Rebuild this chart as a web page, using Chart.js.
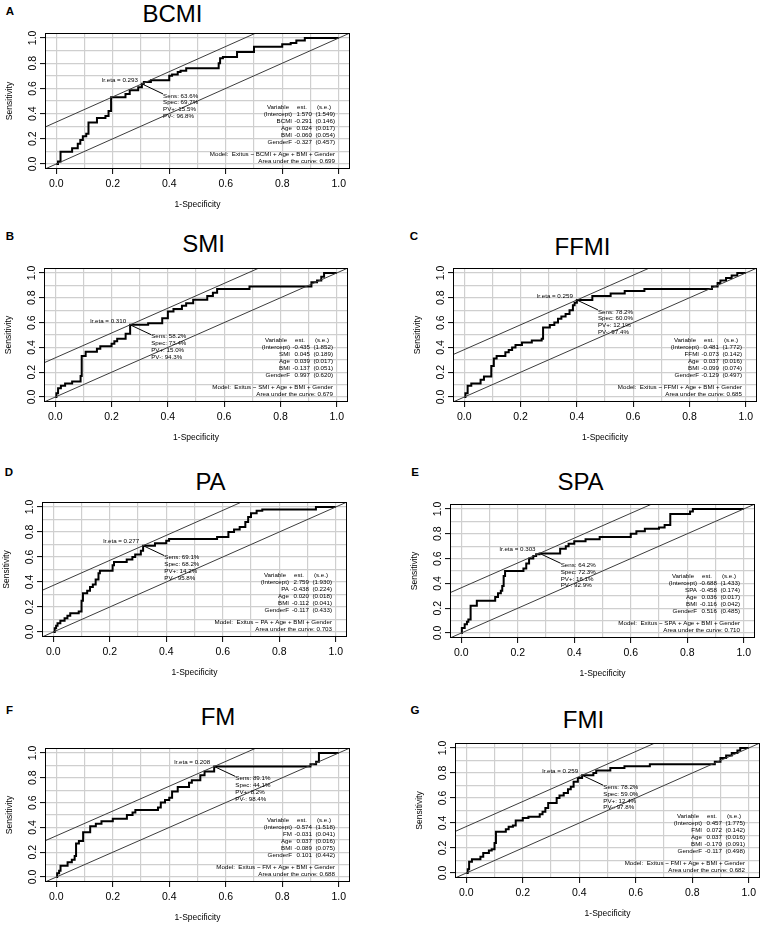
<!DOCTYPE html>
<html><head><meta charset="utf-8">
<script src="https://cdn.jsdelivr.net/npm/chart.js@4.4.1/dist/chart.umd.min.js"></script>
<style>
html,body{margin:0;padding:0;background:#fff}
body{width:767px;height:926px;position:relative;overflow:hidden;font-family:"Liberation Sans",Arial,Helvetica,sans-serif;color:#000}
.cv{position:absolute}
.ttl{position:absolute;font-size:24px;line-height:1;transform:translate(-50%,-50%);white-space:nowrap}
.lt{position:absolute;font-size:11.5px;font-weight:bold;line-height:1;transform:translate(-50%,-50%)}
</style></head><body>
<script>
// ---------------- data ----------------
const panelLetters = ['A','B','C','D','E','F','G'];
const panelTitles  = ['BCMI','SMI','FFMI','PA','SPA','FM','FMI'];
const gridValues   = [0,0.1,0.2,0.3,0.4,0.5,0.6,0.7,0.8,0.9,1.0];
const tickLabels   = ['0.0','0.2','0.4','0.6','0.8','1.0'];

// ROC curves: [1-specificity, sensitivity] at each vertical rise
const rocBCMI = [[0,0],[0.006,0.02],[0.015,0.096],[0.056,0.125],[0.076,0.16],[0.085,0.19],[0.094,0.22],[0.106,0.24],[0.114,0.33],[0.144,0.365],[0.174,0.38],[0.185,0.42],[0.194,0.53],[0.245,0.555],[0.26,0.585],[0.29,0.61],[0.303,0.636],[0.31,0.65],[0.335,0.665],[0.40,0.70],[0.41,0.71],[0.43,0.73],[0.44,0.74],[0.46,0.76],[0.575,0.80],[0.58,0.84],[0.59,0.85],[0.64,0.89],[0.70,0.93],[0.80,0.95],[0.83,0.96],[0.85,0.98],[0.88,1.0],[1,1]];
const rocSMI  = [[0,0],[0.004,0.03],[0.01,0.07],[0.02,0.09],[0.035,0.11],[0.06,0.125],[0.09,0.17],[0.094,0.33],[0.108,0.365],[0.148,0.39],[0.16,0.41],[0.2,0.43],[0.21,0.45],[0.22,0.47],[0.25,0.51],[0.266,0.582],[0.33,0.595],[0.38,0.635],[0.40,0.69],[0.42,0.71],[0.45,0.735],[0.465,0.755],[0.49,0.785],[0.54,0.815],[0.56,0.84],[0.575,0.87],[0.69,0.89],[0.91,0.925],[0.93,0.94],[0.945,0.97],[0.955,1.0],[1,1]];
const rocFFMI = [[0,0],[0.004,0.03],[0.012,0.09],[0.025,0.11],[0.058,0.14],[0.07,0.165],[0.096,0.25],[0.105,0.31],[0.115,0.33],[0.146,0.36],[0.158,0.38],[0.17,0.40],[0.182,0.42],[0.205,0.44],[0.24,0.455],[0.275,0.47],[0.28,0.56],[0.304,0.58],[0.32,0.60],[0.333,0.63],[0.345,0.65],[0.36,0.67],[0.374,0.70],[0.386,0.74],[0.392,0.76],[0.40,0.782],[0.455,0.815],[0.52,0.835],[0.57,0.855],[0.64,0.87],[0.88,0.89],[0.90,0.92],[0.91,0.94],[0.93,0.96],[0.95,0.98],[0.97,1.0],[1,1]];
const rocPA   = [[0,0],[0.005,0.03],[0.01,0.05],[0.015,0.07],[0.025,0.09],[0.04,0.11],[0.05,0.13],[0.06,0.15],[0.09,0.165],[0.10,0.25],[0.105,0.31],[0.12,0.33],[0.13,0.36],[0.14,0.38],[0.15,0.42],[0.16,0.47],[0.165,0.49],[0.21,0.535],[0.215,0.56],[0.26,0.58],[0.28,0.60],[0.29,0.62],[0.31,0.65],[0.318,0.691],[0.36,0.71],[0.40,0.73],[0.41,0.745],[0.58,0.76],[0.62,0.80],[0.64,0.82],[0.66,0.84],[0.68,0.88],[0.69,0.92],[0.70,0.95],[0.72,0.97],[0.74,0.98],[0.93,1.0],[1,1]];
const rocSPA  = [[0,0],[0.002,0.04],[0.012,0.07],[0.02,0.09],[0.025,0.11],[0.033,0.22],[0.055,0.26],[0.12,0.29],[0.13,0.32],[0.14,0.34],[0.145,0.38],[0.15,0.46],[0.155,0.50],[0.22,0.52],[0.23,0.56],[0.24,0.60],[0.255,0.62],[0.265,0.635],[0.277,0.642],[0.35,0.68],[0.37,0.70],[0.38,0.72],[0.40,0.74],[0.44,0.755],[0.49,0.775],[0.60,0.80],[0.62,0.82],[0.65,0.84],[0.70,0.85],[0.72,0.87],[0.74,0.96],[0.81,0.98],[0.82,1.0],[1,1]];
const rocFM   = [[0,0],[0.003,0.03],[0.01,0.05],[0.015,0.09],[0.04,0.12],[0.055,0.14],[0.065,0.17],[0.07,0.27],[0.08,0.29],[0.095,0.36],[0.12,0.41],[0.14,0.43],[0.16,0.45],[0.20,0.47],[0.25,0.50],[0.27,0.52],[0.28,0.54],[0.36,0.56],[0.37,0.60],[0.385,0.62],[0.40,0.64],[0.41,0.69],[0.43,0.725],[0.47,0.76],[0.48,0.78],[0.51,0.82],[0.525,0.85],[0.559,0.891],[0.90,0.91],[0.92,0.93],[0.93,1.0],[1,1]];
const rocFMI  = [[0,0],[0.005,0.03],[0.01,0.09],[0.02,0.11],[0.05,0.13],[0.06,0.16],[0.08,0.18],[0.09,0.19],[0.10,0.24],[0.105,0.33],[0.14,0.35],[0.15,0.37],[0.165,0.38],[0.175,0.42],[0.20,0.44],[0.22,0.45],[0.26,0.47],[0.27,0.49],[0.28,0.52],[0.29,0.56],[0.32,0.60],[0.33,0.62],[0.345,0.64],[0.36,0.67],[0.37,0.69],[0.38,0.73],[0.395,0.76],[0.41,0.782],[0.45,0.80],[0.46,0.82],[0.51,0.84],[0.56,0.855],[0.65,0.87],[0.88,0.89],[0.90,0.92],[0.92,0.94],[0.94,0.96],[0.96,0.98],[0.97,1.0],[1,1]];
const rocCurves = [rocBCMI, rocSMI, rocFFMI, rocPA, rocSPA, rocFM, rocFMI];

// optimal cut-off points
const optFpr   = [0.303, 0.266, 0.400, 0.318, 0.277, 0.559, 0.410];
const optSens  = [0.636, 0.582, 0.782, 0.691, 0.642, 0.891, 0.782];
const lrEta    = ['0.293','0.310','0.259','0.277','0.303','0.208','0.259'];
const sensText = ['63.6%','58.2%','78.2%','69.1%','64.2%','89.1%','78.2%'];
const specText = ['69.7%','73.4%','60.0%','68.2%','72.3%','44.1%','59.0%'];
const pvPos    = ['15.5%','15.0%','12.1%','14.2%','16.1%','8.2%','12.4%'];
const pvNeg    = ['96.8%','94.3%','97.4%','95.8%','92.9%','98.4%','97.8%'];

// logistic model coefficients
const coefIntercept = [1.570, -0.435, 0.481, 2.759, -0.688, -0.574, 0.457];
const seIntercept   = [1.549, 1.852, 1.772, 1.930, 1.433, 1.518, 1.775];
const coefMarker    = [-0.291, 0.045, -0.073, -0.438, -0.458, -0.031, 0.072];
const seMarker      = [0.146, 0.189, 0.142, 0.224, 0.174, 0.041, 0.142];
const coefAge       = [0.024, 0.039, 0.037, 0.020, 0.036, 0.037, 0.037];
const seAge         = [0.017, 0.017, 0.016, 0.018, 0.017, 0.016, 0.016];
const coefBMI       = [-0.060, -0.137, -0.099, -0.112, -0.116, -0.089, -0.170];
const seBMI         = [0.054, 0.051, 0.074, 0.041, 0.042, 0.075, 0.091];
const coefGenderF   = [-0.327, 0.997, -0.129, -0.117, 0.516, 0.101, -0.117];
const seGenderF     = [0.457, 0.620, 0.497, 0.433, 0.485, 0.442, 0.498];
const aucValues     = [0.699, 0.679, 0.685, 0.703, 0.710, 0.688, 0.682];

// ---------------- layout ----------------
const plotBoxes = [
  {L:45, T:33,  R:350, B:169},
  {L:44, T:268, R:348, B:402},
  {L:453,T:268, R:757, B:402},
  {L:42, T:502, R:347, B:637},
  {L:450,T:504, R:755, B:638},
  {L:45, T:748, R:350, B:882},
  {L:455,T:743, R:760, B:878}
];
const titlePos  = [[172.5,14],[203.5,244],[582.5,247],[210.5,482],[580.5,482],[218,717],[583.5,720]];
const letterPos = [[10,11.5],[10,236.7],[414,237],[9,473],[415,473],[9.5,710.5],[415,710.5]];

const FONT = '"Liberation Sans", Arial, Helvetica, sans-serif';
const AX_W = 46, AX_H = 44, PAD_T = 10, PAD_R = 8;
Chart.defaults.font.family = FONT;

function axisCfg(isX){
  return {
    type:'linear', min:-0.04, max:1.04,
    afterBuildTicks: s => { s.ticks = gridValues.map(v => ({value:v})); },
    afterFit: s => {
      if (isX) s.height = AX_H; else s.width = AX_W;
      s.paddingTop = 0; s.paddingBottom = 0; s.paddingLeft = 0; s.paddingRight = 0;
    },
    border:{display:false},
    grid:{color:'#cfcfcf', lineWidth:1.2, drawTicks:true, tickLength:5, tickWidth:1,
          tickColor: c => (c.index % 2 === 0 ? '#000' : 'rgba(0,0,0,0)')},
    ticks:{autoSkip:false, color:'#000', font:{family:FONT, size:10.5},
           padding: isX ? 4 : 0,
           minRotation: isX ? 0 : 90, maxRotation: isX ? 0 : 90,
           crossAlign: isX ? 'near' : 'center',
           callback: (v, i) => (i % 2 === 0 ? tickLabels[i/2] : '')},
    title:{display:true, text: isX ? '1-Specificity' : 'Sensitivity', color:'#000',
           font:{family:FONT, size:8.5},
           padding: isX ? {top:0, bottom:3} : {top:6, bottom:0}}
  };
}

const annotPlugin = {
  id:'rocAnnot',
  afterDatasetsDraw(chart){
    const o = chart.options.plugins.rocAnnot;
    const {ctx, chartArea:a} = chart;
    const xs = chart.scales.x, ys = chart.scales.y;
    ctx.save();
    // frame
    ctx.strokeStyle = '#000'; ctx.lineWidth = 1;
    ctx.strokeRect(a.left + 0.5, a.top + 0.5, a.width - 1, a.height - 1);
    ctx.fillStyle = '#000';
    ctx.font = '6.2px ' + FONT;
    ctx.textBaseline = 'middle';
    const px = xs.getPixelForValue(o.fpr), py = ys.getPixelForValue(o.sens);
    ctx.textAlign = 'right';
    ctx.fillText('lr.eta = ' + o.eta, px - 4, py - 4);
    const ex = xs.getPixelForValue(o.fpr + 0.075), ey = ys.getPixelForValue(o.sens - 0.08);
    ctx.textAlign = 'left';
    o.stats.forEach((t, i) => ctx.fillText(t, ex, ey + 2 + i * 6.8));
    // coefficient table
    const R = a.right, B = a.bottom;
    ctx.textAlign = 'center';
    ctx.fillText('Variable', R - 72, B - 62);
    ctx.fillText('est.', R - 48, B - 62);
    ctx.fillText('(s.e.)', R - 26, B - 62);
    o.rows.forEach((r, i) => {
      const yy = B - 55 + i * 7;
      ctx.textAlign = 'right';
      ctx.fillText(r[0], R - 58, yy);
      ctx.fillText(r[1], R - 38, yy);
      ctx.fillText(r[2], R - 15, yy);
    });
    ctx.fillText(o.model, R - 15, B - 14.5);
    ctx.fillText('Area under the curve: ' + o.auc, R - 15, B - 8);
    ctx.restore();
  }
};

function addDiv(cls, txt, x, y){
  const d = document.createElement('div');
  d.className = cls; d.textContent = txt;
  d.style.left = x + 'px'; d.style.top = y + 'px';
  document.body.appendChild(d);
}

panelTitles.forEach((name, i) => {
  addDiv('lt', panelLetters[i], letterPos[i][0], letterPos[i][1]);
  addDiv('ttl', name, titlePos[i][0], titlePos[i][1]);
  const b = plotBoxes[i];
  const w = b.R - b.L + AX_W + PAD_R, h = b.B - b.T + PAD_T + AX_H;
  const cv = document.createElement('canvas');
  cv.className = 'cv';
  cv.width = w; cv.height = h;
  cv.style.left = (b.L - AX_W) + 'px'; cv.style.top = (b.T - PAD_T) + 'px';
  cv.style.width = w + 'px'; cv.style.height = h + 'px';
  document.body.appendChild(cv);

  const c = optSens[i] - optFpr[i];   // reference line through the optimum, slope 1
  const fmt = v => v.toFixed(3);
  const fmtSe = v => '(' + v.toFixed(3) + ')';
  const rows = [
    ['(Intercept)', fmt(coefIntercept[i]), fmtSe(seIntercept[i])],
    [name,          fmt(coefMarker[i]),    fmtSe(seMarker[i])],
    ['Age',         fmt(coefAge[i]),       fmtSe(seAge[i])],
    ['BMI',         fmt(coefBMI[i]),       fmtSe(seBMI[i])],
    ['GenderF',     fmt(coefGenderF[i]),   fmtSe(seGenderF[i])]
  ];

  new Chart(cv, {
    type:'scatter',
    data:{datasets:[
      {data:[{x:-0.04,y:-0.04},{x:1.04,y:1.04}], showLine:true, borderColor:'#3c3c3c', borderWidth:1, pointRadius:0},
      {data:[{x:-0.04,y:-0.04 + c},{x:1.04,y:1.04 + c}], showLine:true, borderColor:'#3c3c3c', borderWidth:1, pointRadius:0},
      {data:rocCurves[i].map(p => ({x:p[0], y:p[1]})), showLine:true, stepped:'before', borderColor:'#000', borderWidth:2, pointRadius:0},
      {data:[{x:optFpr[i], y:optSens[i]},{x:optFpr[i] + 0.075, y:optSens[i] - 0.08}], showLine:true, borderColor:'#000', borderWidth:1, pointRadius:0}
    ]},
    options:{
      responsive:false, animation:false, devicePixelRatio:1,
      layout:{padding:{left:0, top:PAD_T, right:PAD_R, bottom:0}},
      plugins:{
        legend:{display:false}, tooltip:{enabled:false},
        rocAnnot:{
          fpr:optFpr[i], sens:optSens[i], eta:lrEta[i],
          stats:['Sens: ' + sensText[i], 'Spec: ' + specText[i], 'PV+: ' + pvPos[i], 'PV-: ' + pvNeg[i]],
          rows:rows,
          model:'Model:  Exitus ~ ' + name + ' + Age + BMI + Gender',
          auc: aucValues[i].toFixed(3)
        }
      },
      scales:{x:axisCfg(true), y:axisCfg(false)}
    },
    plugins:[annotPlugin]
  });
});
</script>
</body></html>
